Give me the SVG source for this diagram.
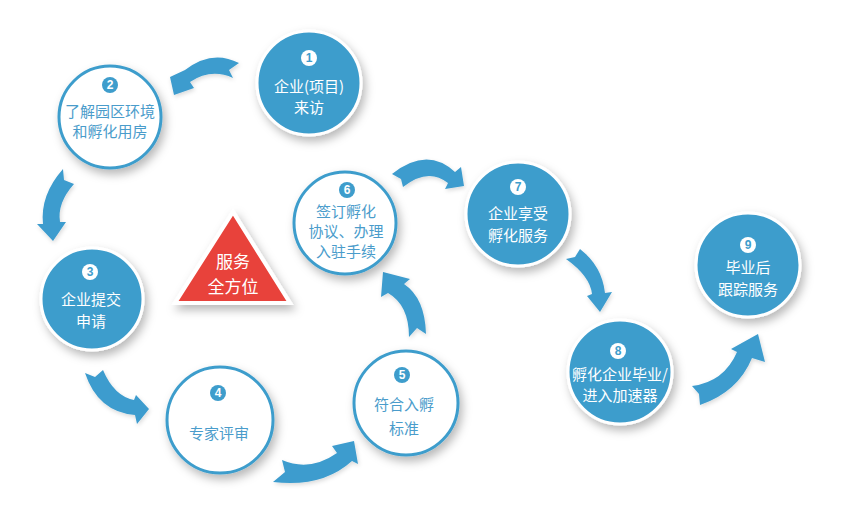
<svg xmlns="http://www.w3.org/2000/svg" width="848" height="516" viewBox="0 0 848 516">
<defs>
<filter id="sh" x="-30%" y="-30%" width="160%" height="160%">
<feDropShadow dx="3" dy="5" stdDeviation="5" flood-color="#000" flood-opacity="0.28"/>
</filter>
<filter id="ash" x="-30%" y="-30%" width="160%" height="160%">
<feDropShadow dx="1" dy="2" stdDeviation="2" flood-color="#000" flood-opacity="0.15"/>
</filter>
</defs>
<style>
.fill{fill:#3e9dcc;stroke:#fff;stroke-width:3;filter:url(#sh)}
.out{fill:#fff;stroke:#3e9dcc;stroke-width:3;filter:url(#sh)}
.t{font-family:"Noto Sans CJK SC","Liberation Sans",sans-serif;font-size:15px;text-anchor:middle}
.tw{fill:#fff}
.tb{fill:#4a9ccb}
.bw{fill:#fff}
.bb{fill:#3e9dcc}
.n{font-family:"Liberation Sans",sans-serif;font-size:12px;font-weight:bold;text-anchor:middle}
.arrow{fill:#3d9cce;filter:url(#ash)}
</style>
<rect width="848" height="516" fill="#fff"/>
<g id="connectors">
<path class="arrow" d="M239,63 Q212,49 185,70 L170,77 L174,95 L194,88 L190,82 Q211,68 233,78 L229,70 Z"/>
<path class="arrow" d="M63,169 Q40,195 43,224 L37,224 L53,241 L66,222 L60,222 Q57,203 74,184 L64,180 Z"/>
<path class="arrow" d="M85,373 Q98,412 135,415 L137,424 L149,409 L136,395 L134,400 Q114,396 103,370 L95,377 Z"/>
<path class="arrow" d="M282,460 Q310,472 337,453 L332,446 L354,441 L358,464 L352,461 Q322,488 273,482 L285,472 Z"/>
<path class="arrow" d="M426,334 Q425,298 404,284 L410,279 L383,272 L381,297 L388,293 Q409,305 409,337 L417,328 Z"/>
<path class="arrow" d="M392,174 Q427,146 455,172 L461,167 L464,186 L445,189 L448,183 Q428,167 403,187 L401,179 Z"/>
<path class="arrow" d="M580,249 Q602,266 605,293 L612,292 L600,312 L587,296 L592,294 Q590,276 566,259 L575,257 Z"/>
<path class="arrow" d="M692,386 Q724,382 737,352 L731,349 L758,334 L765,362 L752,358 Q738,392 700,405 L699,394 Z"/>
</g>
<g id="center">
<polygon points="233,212 175,303 290,303" fill="#e8433a" stroke="#fff" stroke-width="4" stroke-linejoin="miter" filter="url(#sh)"/>
<text class="t tw" x="233" y="268" style="font-size:17px">服务</text>
<text class="t tw" x="233" y="293" style="font-size:17px">全方位</text>
</g>
<g id="n1">
<circle class="fill" cx="309" cy="83" r="52"/>
<circle class="bw" cx="309" cy="58" r="8"/>
<text class="n bb" x="309" y="62">1</text>
<text class="t tw" x="309" y="92">企业(项目)</text>
<text class="t tw" x="309" y="113">来访</text>
</g>
<g id="n2">
<circle class="out" cx="110" cy="117" r="51"/>
<circle class="bb" cx="110" cy="85" r="8"/>
<text class="n bw" x="110" y="89">2</text>
<text class="t tb" x="110" y="117">了解园区环境</text>
<text class="t tb" x="110" y="137">和孵化用房</text>
</g>
<g id="n3">
<circle class="fill" cx="92" cy="299" r="51"/>
<circle class="bw" cx="90" cy="272" r="8"/>
<text class="n bb" x="90" y="276">3</text>
<text class="t tw" x="91" y="305">企业提交</text>
<text class="t tw" x="91" y="327">申请</text>
</g>
<g id="n4">
<circle class="out" cx="220" cy="420" r="53"/>
<circle class="bb" cx="218" cy="393" r="8"/>
<text class="n bw" x="218" y="397">4</text>
<text class="t tb" x="219" y="439">专家评审</text>
</g>
<g id="n5">
<circle class="out" cx="406" cy="403" r="52"/>
<circle class="bb" cx="402" cy="375" r="8"/>
<text class="n bw" x="402" y="379">5</text>
<text class="t tb" x="404" y="410">符合入孵</text>
<text class="t tb" x="404" y="434">标准</text>
</g>
<g id="n6">
<circle class="out" cx="345" cy="223" r="51"/>
<circle class="bb" cx="347" cy="190" r="8"/>
<text class="n bw" x="347" y="194">6</text>
<text class="t tb" x="346" y="217">签订孵化</text>
<text class="t tb" x="346" y="237">协议、办理</text>
<text class="t tb" x="346" y="257">入驻手续</text>
</g>
<g id="n7">
<circle class="fill" cx="518" cy="214" r="52"/>
<circle class="bw" cx="518" cy="187" r="8"/>
<text class="n bb" x="518" y="191">7</text>
<text class="t tw" x="518" y="219">企业享受</text>
<text class="t tw" x="518" y="241">孵化服务</text>
</g>
<g id="n8">
<circle class="fill" cx="620" cy="372" r="52"/>
<circle class="bw" cx="618" cy="351" r="8"/>
<text class="n bb" x="618" y="355">8</text>
<text class="t tw" x="620" y="380">孵化企业毕业/</text>
<text class="t tw" x="620" y="401">进入加速器</text>
</g>
<g id="n9">
<circle class="fill" cx="748" cy="265" r="52"/>
<circle class="bw" cx="748" cy="245" r="8"/>
<text class="n bb" x="748" y="249">9</text>
<text class="t tw" x="748" y="273">毕业后</text>
<text class="t tw" x="748" y="295">跟踪服务</text>
</g>
</svg>
